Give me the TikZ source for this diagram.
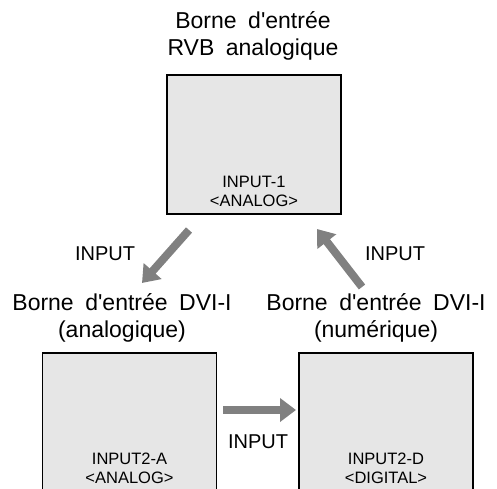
\documentclass[tikz,border=0pt]{standalone}
\usepackage{fontspec}
\setmainfont{Liberation Sans}[WordSpace=1.8]
\usetikzlibrary{arrows.meta,positioning}
\definecolor{panelgray}{RGB}{230,230,230}
\definecolor{arrowgray}{RGB}{128,128,128}

\begin{document}
\begin{tikzpicture}[x=1pt,y=-1pt,
    panel/.style={draw=black,line width=1.3pt,fill=panelgray,
      minimum width=174pt,minimum height=139pt,inner sep=0pt},
    paneltext/.style={font=\fontsize{16.5}{19}\selectfont,align=center,inner sep=0pt},
    caption/.style={font=\fontsize{23}{27}\selectfont,align=center,inner sep=0pt},
    inputlbl/.style={font=\fontsize{20}{24}\selectfont,inner sep=0pt},
    feed/.style={arrowgray,line width=8pt,-{Triangle[length=16pt,width=23pt]}}]
    \useasboundingbox (0,0) rectangle (497,488);

    % borne RVB
    \node[caption,anchor=south] (rvbcap) at (253,60) {Borne d\textquotesingle entrée\\RVB analogique};
    \node[panel] (rvb) at (254,144.5) {};
    \node[paneltext,anchor=south] (rvbtxt) at (254,206.5) {INPUT-1\\<ANALOG>};

    % DVI-I analogique
    \node[caption,anchor=south] (anacap) at (122,342) {Borne d\textquotesingle entrée DVI-I\\(analogique)};
    \node[panel] (ana) at (129.5,422.5) {};
    \node[paneltext,anchor=south] (anatxt) at (129.5,484) {INPUT2-A\\<ANALOG>};

    % DVI-I numerique
    \node[caption,anchor=south] (numcap) at (376,342) {Borne d\textquotesingle entrée DVI-I\\(numérique)};
    \node[panel] (num) at (386,422.5) {};
    \node[paneltext,anchor=south] (numtxt) at (386,484) {INPUT2-D\\<DIGITAL>};

    % fleches INPUT
    \coordinate (a1) at (189,230);
    \coordinate (a2) at (142,283);
    \coordinate (b1) at (362,287);
    \coordinate (b2) at (317,229);
    \coordinate (c1) at (223,410);
    \coordinate (c2) at (296,410);
    \draw[feed] (a1) -- (a2);
    \draw[feed] (b1) -- (b2);
    \draw[feed] (c1) -- (c2);

    \node[inputlbl,anchor=base] (inleft) at (105,260) {INPUT};
    \node[inputlbl,anchor=base] (inright) at (395,260) {INPUT};
    \node[inputlbl,anchor=base] (inbottom) at (258,448) {INPUT};
\end{tikzpicture}
\end{document}
